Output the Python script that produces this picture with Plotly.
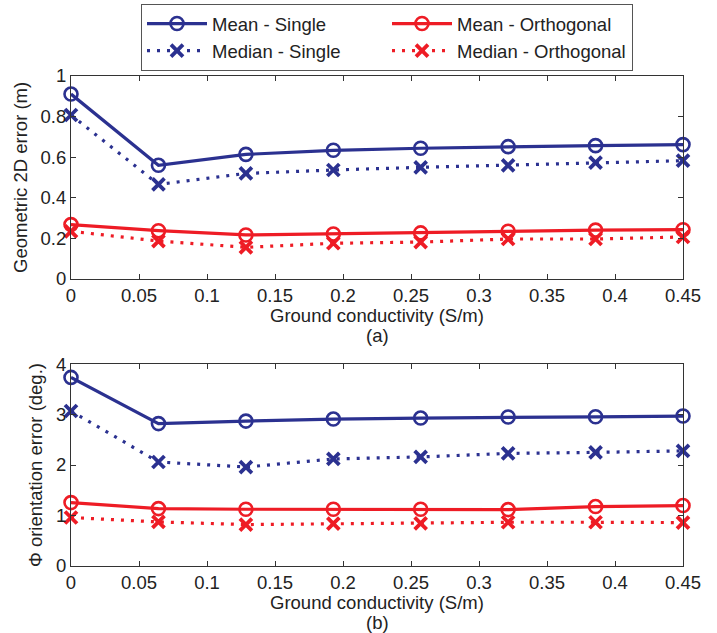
import plotly.graph_objects as go

x_cond = [0, 0.0643, 0.1286, 0.1929, 0.2571, 0.3214, 0.3857, 0.45]

geo_mean_single = [0.911, 0.56, 0.614, 0.634, 0.644, 0.652, 0.657, 0.662]
geo_median_single = [0.808, 0.466, 0.52, 0.537, 0.55, 0.56, 0.573, 0.583]
geo_mean_orth = [0.268, 0.238, 0.217, 0.222, 0.227, 0.235, 0.241, 0.243]
geo_median_orth = [0.235, 0.187, 0.156, 0.176, 0.182, 0.197, 0.197, 0.207]

phi_mean_single = [3.735, 2.82, 2.87, 2.91, 2.93, 2.95, 2.955, 2.97]
phi_median_single = [3.07, 2.06, 1.96, 2.12, 2.16, 2.23, 2.25, 2.28]
phi_mean_orth = [1.256, 1.137, 1.124, 1.124, 1.124, 1.117, 1.177, 1.197]
phi_median_orth = [0.96, 0.873, 0.82, 0.84, 0.846, 0.866, 0.866, 0.86]

x_ticks = [0, 0.05, 0.1, 0.15, 0.2, 0.25, 0.3, 0.35, 0.4, 0.45]
x_ticklabels = ["0", "0.05", "0.1", "0.15", "0.2", "0.25", "0.3", "0.35", "0.4", "0.45"]
geo_ticks = [0, 0.2, 0.4, 0.6, 0.8, 1]
geo_ticklabels = ["0", "0.2", "0.4", "0.6", "0.8", "1"]
phi_ticks = [0, 1, 2, 3, 4]

BLUE = "#2b3190"
RED = "#ee1c25"
FONT = "Liberation Sans, Arial, sans-serif"
FS = 18.5

fig = go.Figure()

def add_series(y, name, color, kind, xa, ya, show):
    if kind == "mean":
        line = dict(color=color, width=3.2)
        marker = dict(symbol="circle-open", size=13, color=color, line=dict(width=2.6, color=color))
    else:
        line = dict(color=color, width=3.2, dash="3px,7px")
        marker = dict(symbol="x-thin-open", size=12, color=color, line=dict(width=3.8, color=color))
    fig.add_trace(go.Scatter(x=x_cond, y=y, name=name, mode="lines+markers",
                             line=line, marker=marker, xaxis=xa, yaxis=ya,
                             showlegend=show, cliponaxis=False))

# legend order: row1 Mean-Single, Mean-Orth; row2 Median-Single, Median-Orth
add_series(geo_mean_single, "Mean - Single", BLUE, "mean", "x", "y", True)
add_series(geo_mean_orth, "Mean - Orthogonal", RED, "mean", "x", "y", True)
add_series(geo_median_single, "Median - Single", BLUE, "median", "x", "y", True)
add_series(geo_median_orth, "Median - Orthogonal", RED, "median", "x", "y", True)

add_series(phi_mean_single, "Mean - Single", BLUE, "mean", "x2", "y2", False)
add_series(phi_mean_orth, "Mean - Orthogonal", RED, "mean", "x2", "y2", False)
add_series(phi_median_single, "Median - Single", BLUE, "median", "x2", "y2", False)
add_series(phi_median_orth, "Median - Orthogonal", RED, "median", "x2", "y2", False)

axis_common = dict(showline=True, linecolor="#333333", linewidth=1, mirror="ticks",
                   ticks="inside", ticklen=5, tickcolor="#333333", showgrid=False,
                   zeroline=False, tickfont=dict(family=FONT, size=FS, color="#222222"))

top_dom = [0.5857, 1.0]
bot_dom = [0.0, 0.4122]

def py(px):
    return (566 - px) / 490

def pxx(px):
    return (px - 71) / 612

def label(text, x, y, angle=0):
    return dict(text=text, xref="paper", yref="paper", x=x, y=y, xanchor="center",
                yanchor="middle", textangle=angle, showarrow=False, font=dict(size=FS))

fig.update_layout(
    width=717, height=633,
    margin=dict(l=71, r=34, t=76, b=67, autoexpand=False),
    paper_bgcolor="white", plot_bgcolor="white",
    font=dict(family=FONT, size=FS, color="#222222"),
    xaxis=dict(domain=[0, 1], anchor="y", range=[0, 0.45], tickvals=x_ticks,
               ticktext=x_ticklabels, **axis_common),
    yaxis=dict(domain=top_dom, anchor="x", range=[0, 1], tickvals=geo_ticks,
               ticktext=geo_ticklabels, **axis_common),
    xaxis2=dict(domain=[0, 1], anchor="y2", range=[0, 0.45], tickvals=x_ticks,
                ticktext=x_ticklabels, **axis_common),
    yaxis2=dict(domain=bot_dom, anchor="x2", range=[0, 4], tickvals=phi_ticks,
                **axis_common),
    legend=dict(orientation="h", x=pxx(141), xanchor="left", y=py(4), yanchor="top",
                entrywidth=170, entrywidthmode="pixels",
                bordercolor="#555555", borderwidth=1, bgcolor="white",
                font=dict(family=FONT, size=FS, color="#222222"),
                itemwidth=60),
    annotations=[
        label("Ground conductivity (S/m)", 0.5, py(315)),
        label("(a)", 0.5, py(336)),
        label("Ground conductivity (S/m)", 0.5, py(602.5)),
        label("(b)", 0.5, py(622)),
        label("Geometric 2D error (m)", pxx(20), py(178), -90),
        label("Φ orientation error (deg.)", pxx(35), py(465), -90),
    ],
)

fig.write_html("out.html", config={"displayModeBar": False},
               post_script="document.body.style.margin='0px';")
